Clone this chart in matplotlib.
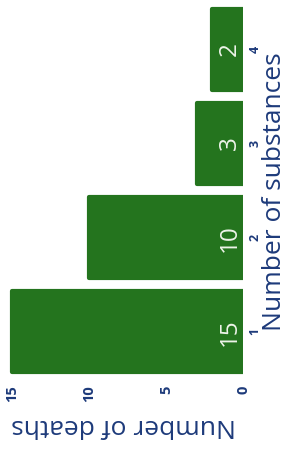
import matplotlib.pyplot as plt

substances = [1, 2, 3, 4]
deaths = [15, 10, 3, 2]
death_ticks = [0, 5, 10, 15]

green = '#24741e'
navy = '#1d3a7a'
plt.rcParams['font.family'] = ['Open Sans', 'DejaVu Sans']

fig = plt.figure(figsize=(2.95, 4.57), dpi=100)
ax = fig.add_axes([5 / 295, 77 / 457, 238 / 295, 377 / 457])

# chart is drawn turned a quarter turn, so bars run right-to-left
ax.barh(substances, deaths, height=0.86, color=green, edgecolor=green,
        linewidth=3, joinstyle='round')
for s, d in zip(substances, deaths):
    ax.text(0.85, s, str(d), rotation=90, ha='center', va='center',
            color='#eef4ea', fontsize=17.5)

ax.set_xlim(15.45, 0)
ax.set_ylim(0.49, 4.49)
ax.set_xticks(death_ticks)
ax.set_xticklabels([str(t) for t in death_ticks], rotation=90,
                   color=navy, fontsize=10.5, fontweight='bold')
ax.set_yticks(substances)
ax.set_yticklabels([str(s) for s in substances], rotation=90,
                   color=navy, fontsize=9, fontweight='bold', va='center')
ax.yaxis.tick_right()
ax.yaxis.set_label_position('right')
ax.tick_params(length=0, pad=4)
for sp in ax.spines.values():
    sp.set_visible(False)

ax.set_ylabel('Number of substances', rotation=90, color=navy, fontsize=19,
              labelpad=0)
ax.set_xlabel('Number of deaths', rotation=180, color=navy, fontsize=19,
              labelpad=8)

fig.savefig('out.png', dpi=100)
